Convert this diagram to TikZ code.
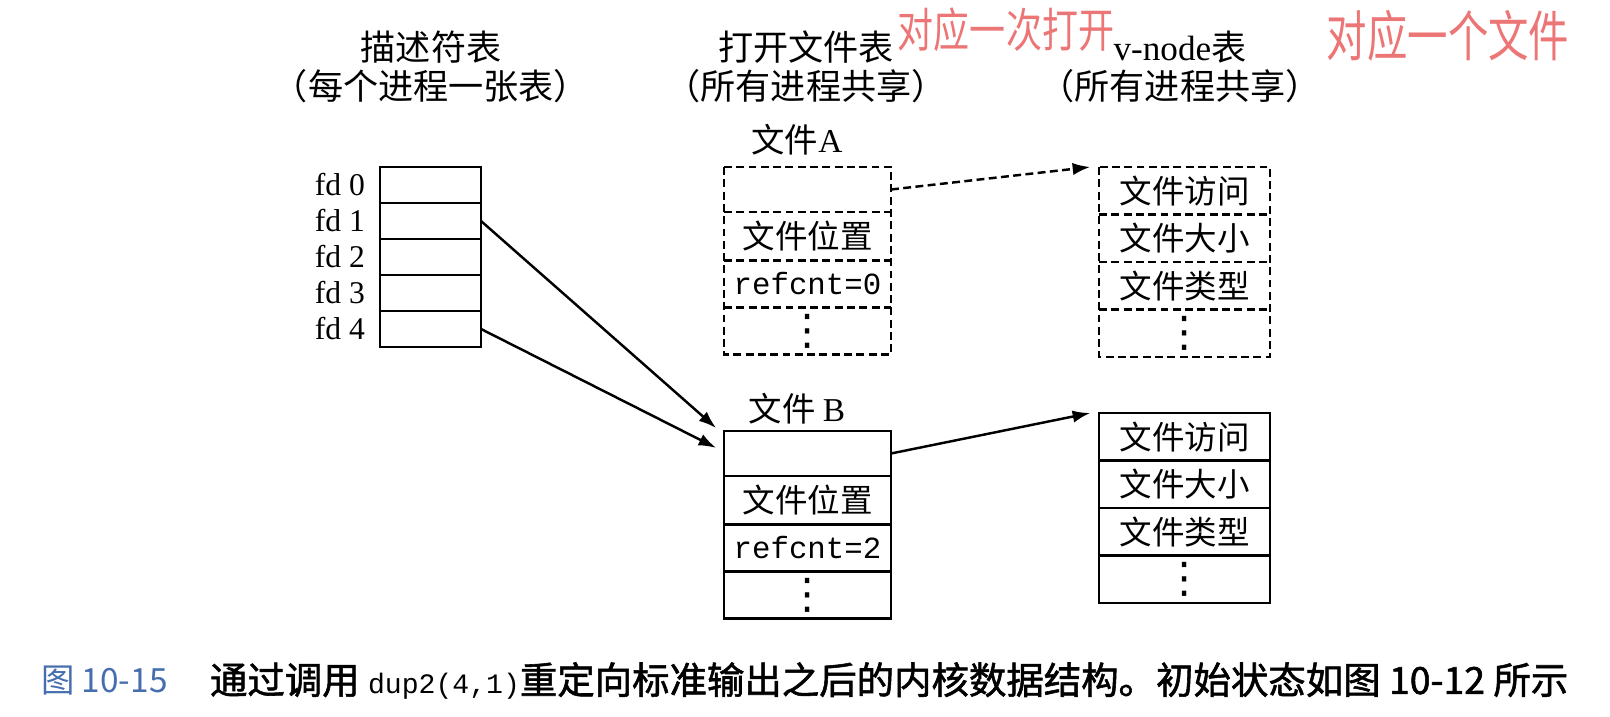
\documentclass[tikz,border=0pt]{standalone}
\usepackage{fontspec}
\setmainfont{Liberation Serif}
\setmonofont{Liberation Mono}
\newfontfamily\cjk{Noto Sans CJK SC}
\newfontfamily\cjkb{Noto Sans CJK SC}[FakeBold=1.5]
\newfontfamily\symf{DejaVu Sans}
\usetikzlibrary{arrows.meta,positioning}
\definecolor{penred}{RGB}{236,118,118}
\definecolor{capblue}{RGB}{70,110,175}
\newcommand{\moredots}{{\symf\fontsize{24}{24}\selectfont ⋮}}

\begin{document}
\begin{tikzpicture}[x=0.02cm, y=-0.02cm, >={Latex[length=10pt,width=7pt]},
    every node/.style={inner sep=0pt, outer sep=0pt},
    title/.style={font=\cjk\fontsize{20}{22}\selectfont, align=center},
    cell/.style={minimum width=#1, font=\cjk\fontsize{18.5}{20}\selectfont},
    monocell/.style={font=\ttfamily\fontsize{17.5}{18}\selectfont},
    fdcell/.style={draw, line width=1.2pt, minimum width=2.02cm, minimum height=0.72cm},
    dashline/.style={line width=1.2pt, dash pattern=on 4.5pt off 2.5pt},
    solidline/.style={line width=1.2pt},
    link/.style={line width=1.4pt, ->}]
    \useasboundingbox (0,0) rectangle (1610,717);
    % titles
    \node[title] (tfd) at (431,67) {描述符表\\（每个进程一张表）};
    \node[title] (topen) at (806,67) {打开文件表\\（所有进程共享）};
    \node[title] (tvnode) at (1180,67) {{\rmfamily v-node}表\\（所有进程共享）};
    \node[font=\cjk\fontsize{20.5}{22}\selectfont, text=penred] (noteA) at (1006,30) {\scalebox{1}[1.3]{对应一次打开}};
    \node[font=\cjk\fontsize{23}{26}\selectfont, text=penred] (noteB) at (1448,36) {\scalebox{1}[1.35]{对应一个文件}};
    % descriptor table
    \node[fdcell] (fd0) at (430.5,185) {};
    \foreach \i [remember=\i as \j (initially 0)] in {1,...,4}
        \node[fdcell, below=0pt of fd\j] (fd\i) {};
    \foreach \i in {0,...,4}
        \node[left=0.3cm of fd\i, font=\fontsize{18}{20}\selectfont] (lbl\i) {fd \i};
    % open file table
    \node[font=\cjk\fontsize{19}{22}\selectfont] (nameA) at (797,140) {文件{\rmfamily A}};
    \node[cell=3.34cm, minimum height=0.9cm] (fA0) at (807.5,189.5) {};
    \node[cell=3.34cm, minimum height=0.97cm, below=0pt of fA0] (fA1) {文件位置};
    \node[cell=3.34cm, minimum height=0.94cm, below=0pt of fA1, monocell] (fA2) {refcnt=0};
    \node[cell=3.34cm, minimum height=0.94cm, below=0pt of fA2] (fA3) {\moredots};
    \draw[dashline] (fA0.north west) rectangle (fA3.south east);
    \foreach \i in {0,1,2} \draw[dashline] (fA\i.south west) -- (fA\i.south east);
    \node[font=\cjk\fontsize{19}{22}\selectfont] (nameB) at (797,409) {文件 {\rmfamily B}};
    \node[cell=3.34cm, minimum height=0.9cm] (fB0) at (807.5,453.5) {};
    \node[cell=3.34cm, minimum height=0.97cm, below=0pt of fB0] (fB1) {文件位置};
    \node[cell=3.34cm, minimum height=0.94cm, below=0pt of fB1, monocell] (fB2) {refcnt=2};
    \node[cell=3.34cm, minimum height=0.94cm, below=0pt of fB2] (fB3) {\moredots};
    \draw[solidline] (fB0.north west) rectangle (fB3.south east);
    \foreach \i in {0,1,2} \draw[solidline] (fB\i.south west) -- (fB\i.south east);
    % v-node table
    \node[cell=3.42cm, minimum height=0.95cm] (vA0) at (1184.5,190.75) {文件访问};
    \node[cell=3.42cm, minimum height=0.95cm, below=0pt of vA0] (vA1) {文件大小};
    \node[cell=3.42cm, minimum height=0.95cm, below=0pt of vA1] (vA2) {文件类型};
    \node[cell=3.42cm, minimum height=0.95cm, below=0pt of vA2] (vA3) {\moredots};
    \draw[dashline] (vA0.north west) rectangle (vA3.south east);
    \foreach \i in {0,1,2} \draw[dashline] (vA\i.south west) -- (vA\i.south east);
    \node[cell=3.42cm, minimum height=0.95cm] (vB0) at (1184.5,436.75) {文件访问};
    \node[cell=3.42cm, minimum height=0.95cm, below=0pt of vB0] (vB1) {文件大小};
    \node[cell=3.42cm, minimum height=0.95cm, below=0pt of vB1] (vB2) {文件类型};
    \node[cell=3.42cm, minimum height=0.95cm, below=0pt of vB2] (vB3) {\moredots};
    \draw[solidline] (vB0.north west) rectangle (vB3.south east);
    \foreach \i in {0,1,2} \draw[solidline] (vB\i.south west) -- (vB\i.south east);
    % links
    \draw[link] (fd1.east) -- ([xshift=-4.5pt,yshift=1.7pt]fB0.north west);
    \draw[link] (fd4.east) -- ([xshift=-4.5pt,yshift=-9.6pt]fB0.north west);
    \draw[link, dash pattern=on 4.5pt off 2.5pt] (fA0.east) -- ([xshift=-5pt]vA0.north west);
    \draw[link] (fB0.east) -- ([xshift=-5pt]vB0.north west);
    % caption
    \node[anchor=west, text=capblue, font=\cjk\fontsize{19}{22}\selectfont] (capnum) at (41,681) {图 10-15};
    \node[anchor=west, font=\cjkb\fontsize{21.3}{24}\selectfont] (captext) at (210,681)
        {通过调用 {\ttfamily\fontsize{16}{18}\selectfont dup2(4,1)}重定向标准输出之后的内核数据结构。初始状态如图 10-12 所示};
\end{tikzpicture}
\end{document}
